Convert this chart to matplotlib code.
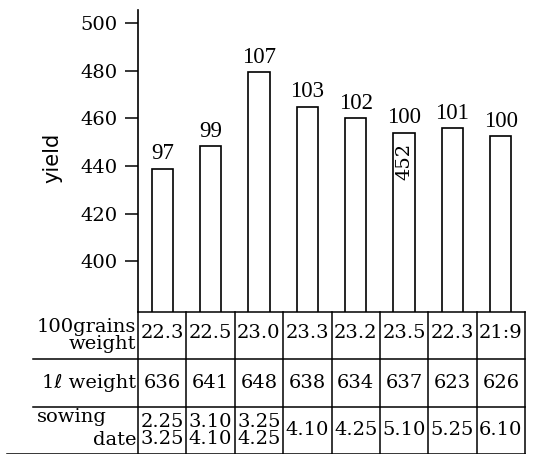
import matplotlib
matplotlib.use("Agg")
import matplotlib.pyplot as plt

# data
index_labels = ['97', '99', '107', '103', '102', '100', '101', '100']
yields = [439, 448.5, 479.5, 465, 460, 454, 456, 452.5]
grains_100 = ['22.3', '22.5', '23.0', '23.3', '23.2', '23.5', '22.3', '21:9']
litre_weight = ['636', '641', '648', '638', '634', '637', '623', '626']
sowing_date = ['2.25\n3.25', '3.10\n4.10', '3.25\n4.25', '4.10', '4.25', '5.10', '5.25', '6.10']
yticks = [400, 420, 440, 460, 480, 500]

W, H = 535, 454
fig = plt.figure(figsize=(W / 100, H / 100), dpi=100)

# pixel geometry of the printed figure
x_left, x_right = 138, 525
y_table_top, y_axis_top = 312, 10
col_w = (x_right - x_left) / 8

ax = fig.add_axes([x_left / W, 1 - y_table_top / H,
                   (x_right - x_left) / W, (y_table_top - y_axis_top) / H])
xs = list(range(len(yields)))
ax.bar(xs, yields, width=0.44, color='white', edgecolor='black', linewidth=1.2)
ax.set_xlim(-0.5, 7.5)
ax.set_ylim(378.8, 505.5)
for s in ['top', 'right', 'bottom']:
    ax.spines[s].set_visible(False)
ax.spines['left'].set_linewidth(1.2)
ax.set_xticks([])
ax.set_yticks(yticks)
ax.tick_params(axis='y', direction='out', length=9.5, width=1.1, pad=5,
               labelsize=14)
for lab in ax.get_yticklabels():
    lab.set_family('DejaVu Serif')

for x, v, t in zip(xs, yields, index_labels):
    ax.text(x, v + 1.8, t, ha='center', va='bottom', fontsize=16.5,
            family='Liberation Serif')
# value written inside the reference bar
ax.text(5, 442, '452', ha='center', va='center', rotation=90, fontsize=14,
        family='DejaVu Serif')

fig.text(52 / W, 1 - 158 / H, 'yield', rotation=90, ha='center', va='center',
         fontsize=15, family='DejaVu Sans')

# table under the bars
tx = fig.add_axes([x_left / W, 0, (x_right - x_left) / W, (H - y_table_top) / H])
tx.set_xlim(-0.5, 7.5)
tx.set_ylim(0, 3)
tx.axis('off')
lw = 1.1
for i in range(9):
    tx.plot([i - 0.5, i - 0.5], [0, 3], color='black', lw=lw, clip_on=False)
tx.plot([-0.5, 7.5], [3, 3], color='black', lw=lw, clip_on=False)
left_rows = -0.5 - (x_left - 33) / col_w
tx.plot([left_rows, 7.5], [2, 2], color='black', lw=lw, clip_on=False)
tx.plot([left_rows, 7.5], [1, 1], color='black', lw=lw, clip_on=False)
tx.plot([-0.5 - (x_left - 7) / col_w, 7.5], [0.01, 0.01], color='black', lw=lw,
        clip_on=False)

tf = dict(fontsize=14, family=['DejaVu Serif', 'DejaVu Sans'])
lab_x = -0.5 - 2 / col_w
tx.text(lab_x, 2.5, '100grains\nweight', ha='right', va='center',
        multialignment='right', linespacing=0.95, clip_on=False, **tf)
tx.text(lab_x, 1.5, '1ℓ weight', ha='right', va='center', clip_on=False, **tf)
tx.text(-0.5 - (x_left - 37) / col_w, 0.78, 'sowing', ha='left', va='center',
        clip_on=False, **tf)
tx.text(lab_x, 0.3, 'date', ha='right', va='center', clip_on=False, **tf)

for x in xs:
    tx.text(x, 2.55, grains_100[x], ha='center', va='center', **tf)
    tx.text(x, 1.5, litre_weight[x], ha='center', va='center', **tf)
    tx.text(x, 0.5, sowing_date[x], ha='center', va='center', linespacing=0.95,
            **tf)

fig.savefig('out.png', dpi=100)
